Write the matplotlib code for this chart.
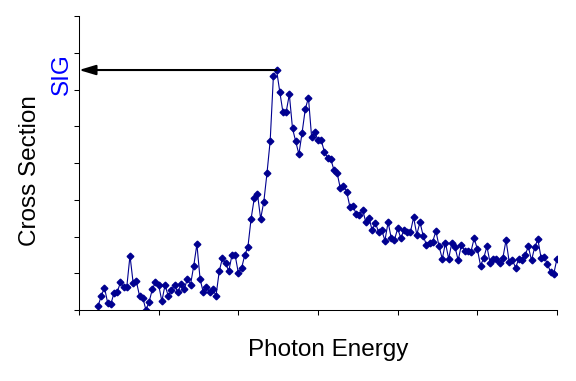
"""Cross section vs photon energy, with the SIG peak marked on the y axis."""

import matplotlib

matplotlib.use("Agg")
import matplotlib.pyplot as plt
import numpy as np
from matplotlib.patches import ArrowStyle


# Measured cross section, one value per photon-energy step (arbitrary units).
CROSS_SECTION = [
    0.11, 0.39, 0.61, 0.19, 0.16, 0.47, 0.49, 0.75, 0.63, 0.63,
    1.48, 0.73, 0.78, 0.38, 0.34, 0.00, 0.22, 0.56, 0.76, 0.68,
    0.24, 0.68, 0.38, 0.54, 0.68, 0.48, 0.70, 0.56, 0.84, 0.69,
    1.20, 1.79, 0.84, 0.48, 0.63, 0.48, 0.56, 0.39, 1.05, 1.41,
    1.27, 1.06, 1.49, 1.49, 1.01, 1.13, 1.49, 1.71, 2.48, 3.04,
    3.16, 2.48, 2.95, 3.73, 4.61, 6.36, 6.53, 5.94, 5.38, 5.38,
    5.87, 4.94, 4.59, 4.24, 4.82, 5.46, 5.78, 4.70, 4.84, 4.62,
    4.62, 4.31, 4.14, 4.11, 3.81, 3.73, 3.31, 3.38, 3.22, 2.81,
    2.84, 2.60, 2.59, 2.73, 2.39, 2.51, 2.17, 2.38, 2.12, 2.17,
    1.89, 2.39, 1.95, 1.91, 2.22, 1.95, 2.19, 2.12, 2.12, 2.52,
    2.05, 2.39, 2.02, 1.78, 1.83, 1.86, 2.15, 1.73, 1.39, 1.83,
    1.39, 1.83, 1.71, 1.35, 1.78, 1.61, 1.61, 1.59, 1.95, 1.66,
    1.21, 1.41, 1.73, 1.29, 1.38, 1.38, 1.27, 1.41, 1.90, 1.31,
    1.37, 1.15, 1.39, 1.37, 1.49, 1.73, 1.35, 1.71, 1.92, 1.42,
    1.44, 1.25, 1.03, 0.99, 1.40,
]
ENERGY_RANGE = (0.24, 6.0)  # first and last sampled photon energy
X_TICKS = [0, 1, 2, 3, 4, 5, 6]
Y_TICKS = [0, 1, 2, 3, 4, 5, 6, 7, 8]

NAVY = "#000090"


def main():
    plt.rcParams["font.family"] = ["Liberation Sans", "DejaVu Sans"]

    energy = np.linspace(*ENERGY_RANGE, len(CROSS_SECTION))
    sigma = np.array(CROSS_SECTION)
    peak = int(np.argmax(sigma))

    fig = plt.figure(figsize=(5.76, 3.81), dpi=100)
    ax = fig.add_axes([79 / 576, 71 / 381, 478 / 576, 294 / 381])

    ax.plot(energy, sigma, color=NAVY, linewidth=0.8, marker="D",
            markersize=3.4, markerfacecolor=NAVY, markeredgecolor=NAVY)

    ax.annotate(
        "",
        xy=(X_TICKS[0], sigma[peak]),
        xytext=(energy[peak], sigma[peak]),
        arrowprops=dict(
            arrowstyle=ArrowStyle("-|>", head_length=1.0, head_width=0.3),
            mutation_scale=10,
            color="black",
            linewidth=1.5,
            shrinkA=0,
            shrinkB=0,
        ),
        annotation_clip=False,
    )

    ax.set_xlim(X_TICKS[0], X_TICKS[-1])
    ax.set_ylim(Y_TICKS[0], Y_TICKS[-1])
    ax.set_xticks(X_TICKS)
    ax.set_yticks(Y_TICKS)
    ax.set_xticklabels([])
    ax.set_yticklabels([])
    ax.tick_params(direction="out", length=3.6, width=0.75, color="black")
    for side in ("top", "right"):
        ax.spines[side].set_visible(False)
    for side in ("left", "bottom"):
        ax.spines[side].set_linewidth(0.75)

    fig.text(328 / 576, 1 - 350 / 381, "Photon Energy", fontsize=17.5,
             ha="center", va="center")
    fig.text(30 / 576, 1 - 171 / 381, "Cross Section", fontsize=17.5,
             rotation=90, ha="center", va="center")
    fig.text(61.5 / 576, 1 - 74 / 381, "SIG", fontsize=17.5, color="#0000FF",
             rotation=90, ha="center", va="center")

    fig.savefig("out.png", dpi=100, facecolor="white")
    plt.close(fig)


if __name__ == "__main__":
    main()
